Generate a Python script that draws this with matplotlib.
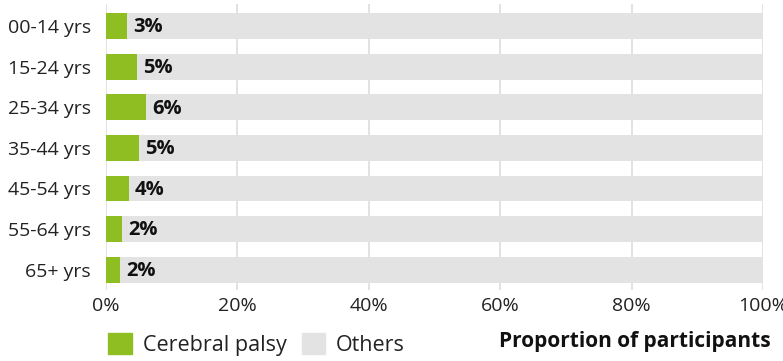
import matplotlib
matplotlib.use('Agg')
import matplotlib.pyplot as plt
from matplotlib.patches import Patch

ages = ['00-14 yrs', '15-24 yrs', '25-34 yrs', '35-44 yrs', '45-54 yrs', '55-64 yrs', '65+ yrs']
cerebral = [3.2, 4.7, 6.1, 5.0, 3.5, 2.5, 2.2]
labels = ['3%', '5%', '6%', '5%', '4%', '2%', '2%']
others = [100 - v for v in cerebral]

green = '#8fbe22'
grey = '#e3e3e3'

plt.rcParams['font.family'] = ['Open Sans', 'DejaVu Sans']

fig = plt.figure(figsize=(7.83, 3.61), dpi=100)
ax = fig.add_axes([0.1354, 0.197, 0.8391, 0.792])

y = range(len(ages))
ax.barh(y, cerebral, height=0.64, color=green, zorder=2)
ax.barh(y, others, left=cerebral, height=0.64, color=grey, zorder=2)

for i, (v, t) in enumerate(zip(cerebral, labels)):
    ax.text(v + 0.9, i + 0.03, t, va='center', ha='left', fontsize=14.5,
            fontweight='bold', color='#111111', zorder=3)

ax.set_ylim(6.5, -0.55)
ax.set_xlim(0, 100)
ax.set_yticks(list(y))
ax.set_yticklabels(ages, fontsize=14, color='#222222')
ax.set_xticks([0, 20, 40, 60, 80, 100])
ax.set_xticklabels(['0%', '20%', '40%', '60%', '80%', '100%'], fontsize=14, color='#222222')
ax.tick_params(axis='y', length=0, pad=11)
ax.tick_params(axis='x', length=0, pad=5)
ax.grid(axis='x', color='#dddddd', linewidth=1.2, zorder=0)
for s in ax.spines.values():
    s.set_visible(False)

handles = [Patch(color=green, label='Cerebral palsy'), Patch(color=grey, label='Others')]
fig.legend(handles=handles, loc='center left', bbox_to_anchor=(0.1135, 0.046), ncol=2,
           frameon=False, fontsize=15.5, handlelength=1.1, handleheight=1.1,
           handletextpad=0.5, columnspacing=0.7, labelcolor='#222222')
fig.text(0.984, 0.053, 'Proportion of participants', ha='right', va='center',
         fontsize=15, fontweight='bold', color='#111111')

fig.savefig('out.png', dpi=100)
